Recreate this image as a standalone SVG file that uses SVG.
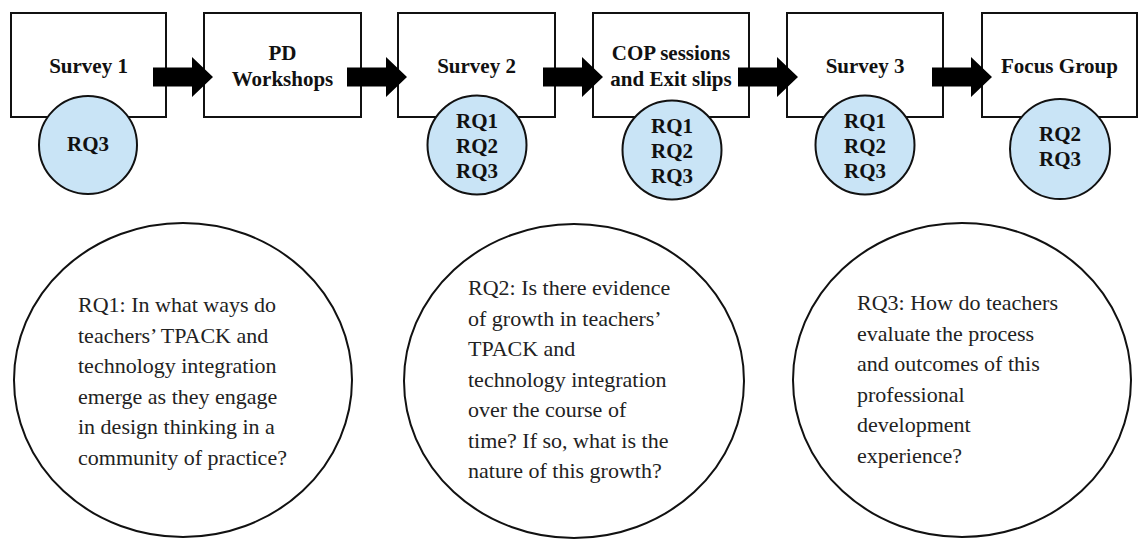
<svg xmlns="http://www.w3.org/2000/svg" width="1139" height="540" viewBox="0 0 1139 540">
<defs>
<style>
.box{fill:#fff;stroke:#111;stroke-width:2}
.rq{fill:#c9e4f6;stroke:#111;stroke-width:2}
.big{fill:#fff;stroke:#111;stroke-width:2}
.arrow{fill:#000}
.b{font-family:"Liberation Serif","Times New Roman",serif;font-weight:bold;font-size:21px;fill:#111;text-anchor:middle}
.t{font-family:"Liberation Serif","Times New Roman",serif;font-size:22px;fill:#222}
</style>
<path id="arr" d="M0,-9.5 H39 V-20 L60,0 L39,20 V9.5 H0 Z"/>
</defs>
<rect width="1139" height="540" fill="#fff"/>

<g id="step1">
<rect class="box" x="11" y="13" width="155" height="104"/>
<text class="b" x="88.5" y="73">Survey 1</text>
<circle class="rq" cx="88" cy="145" r="49"/>
<text class="b" x="88" y="151">RQ3</text>
</g>

<g id="step2">
<rect class="box" x="204" y="13" width="157" height="104"/>
<text class="b" x="282.5" y="60">PD</text>
<text class="b" x="282.5" y="86">Workshops</text>
</g>

<g id="step3">
<rect class="box" x="398" y="13" width="157" height="104"/>
<text class="b" x="476.5" y="73">Survey 2</text>
<circle class="rq" cx="477" cy="145" r="49.5"/>
<text class="b" x="477" y="128">RQ1</text>
<text class="b" x="477" y="153">RQ2</text>
<text class="b" x="477" y="178">RQ3</text>
</g>

<g id="step4">
<rect class="box" x="593" y="13" width="156" height="104"/>
<text class="b" x="671" y="60">COP sessions</text>
<text class="b" x="671" y="86">and Exit slips</text>
<circle class="rq" cx="672" cy="150" r="49.5"/>
<text class="b" x="672" y="133">RQ1</text>
<text class="b" x="672" y="158">RQ2</text>
<text class="b" x="672" y="183">RQ3</text>
</g>

<g id="step5">
<rect class="box" x="787" y="13" width="156" height="104"/>
<text class="b" x="865" y="73">Survey 3</text>
<circle class="rq" cx="865" cy="145" r="49.5"/>
<text class="b" x="865" y="128">RQ1</text>
<text class="b" x="865" y="153">RQ2</text>
<text class="b" x="865" y="178">RQ3</text>
</g>

<g id="step6">
<rect class="box" x="982" y="13" width="155" height="104"/>
<text class="b" x="1059.5" y="73">Focus Group</text>
<circle class="rq" cx="1060" cy="149" r="50"/>
<text class="b" x="1060" y="141">RQ2</text>
<text class="b" x="1060" y="166">RQ3</text>
</g>

<g id="connectors" class="arrow">
<use href="#arr" x="153" y="77"/>
<use href="#arr" x="347" y="77"/>
<use href="#arr" x="543" y="77"/>
<use href="#arr" x="738" y="77"/>
<use href="#arr" x="932" y="77"/>
</g>

<g id="rq1">
<ellipse class="big" cx="183" cy="380" rx="169" ry="157"/>
<text class="t" x="78" y="312">RQ1: In what ways do</text>
<text class="t" x="78" y="342.5">teachers’ TPACK and</text>
<text class="t" x="78" y="373">technology integration</text>
<text class="t" x="78" y="403.5">emerge as they engage</text>
<text class="t" x="78" y="434">in design thinking in a</text>
<text class="t" x="78" y="464.5">community of practice?</text>
</g>

<g id="rq2">
<ellipse class="big" cx="574" cy="381" rx="170" ry="157"/>
<text class="t" x="468" y="295">RQ2: Is there evidence</text>
<text class="t" x="468" y="325.5">of growth in teachers’</text>
<text class="t" x="468" y="356">TPACK and</text>
<text class="t" x="468" y="386.5">technology integration</text>
<text class="t" x="468" y="417">over the course of</text>
<text class="t" x="468" y="447.5">time? If so, what is the</text>
<text class="t" x="468" y="478">nature of this growth?</text>
</g>

<g id="rq3">
<ellipse class="big" cx="962" cy="380" rx="169" ry="157"/>
<text class="t" x="857" y="310">RQ3: How do teachers</text>
<text class="t" x="857" y="340.5">evaluate the process</text>
<text class="t" x="857" y="371">and outcomes of this</text>
<text class="t" x="857" y="401.5">professional</text>
<text class="t" x="857" y="432">development</text>
<text class="t" x="857" y="462.5">experience?</text>
</g>
</svg>
